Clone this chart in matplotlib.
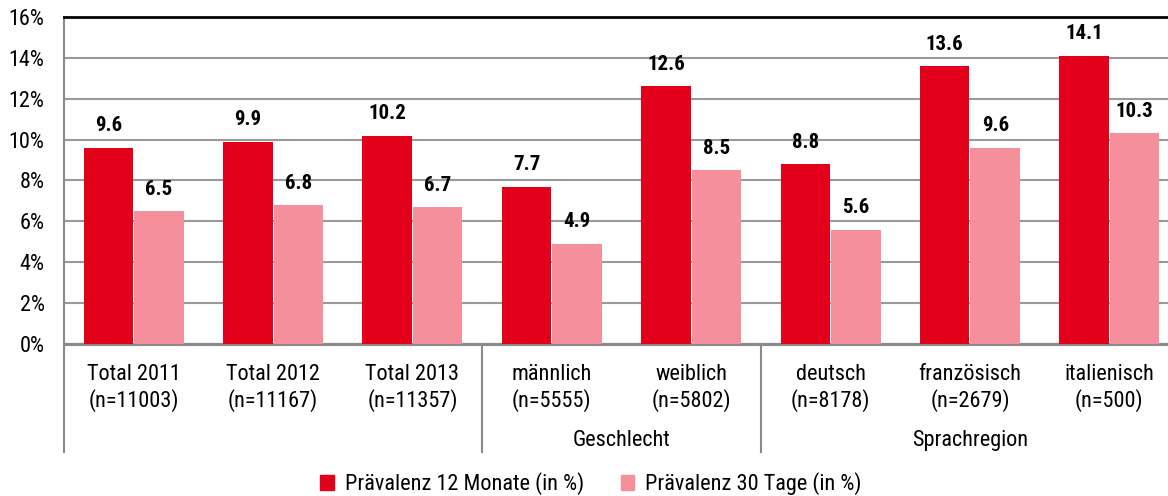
import numpy as np
import matplotlib.pyplot as plt
from matplotlib.patches import Patch

# Daten
kategorien = ['Total 2011', 'Total 2012', 'Total 2013', 'männlich', 'weiblich',
              'deutsch', 'französisch', 'italienisch']
stichprobe = ['(n=11003)', '(n=11167)', '(n=11357)', '(n=5555)', '(n=5802)',
              '(n=8178)', '(n=2679)', '(n=500)']
praev_12m = [9.6, 9.9, 10.2, 7.7, 12.6, 8.8, 13.6, 14.1]
praev_30t = [6.5, 6.8, 6.7, 4.9, 8.5, 5.6, 9.6, 10.3]
gruppen = ['Geschlecht', 'Sprachregion']
gruppen_bereich = [(3, 4), (5, 7)]
trenner = [2.5, 4.5]
serien = ['Prävalenz 12 Monate (in %)', 'Prävalenz 30 Tage (in %)']

rot = '#E2001A'
rosa = '#F58F9B'

plt.rcParams['font.family'] = ['Roboto Condensed', 'DejaVu Sans']

fig = plt.figure(figsize=(11.68, 4.96), dpi=100)
ax = fig.add_axes([64 / 1168, 152 / 496, 1115 / 1168, 327 / 496])

x = np.arange(len(kategorien))
b = 0.355
bars1 = ax.bar(x - b / 2 - 0.004, praev_12m, b, color=rot, zorder=3)
bars2 = ax.bar(x + b / 2 + 0.004, praev_30t, b, color=rosa, zorder=3)
ax.bar_label(bars1, fmt='%.1f', padding=9, fontsize=15, fontweight='bold')
ax.bar_label(bars2, fmt='%.1f', padding=9, fontsize=15, fontweight='bold')

ax.set_xlim(-0.5, len(kategorien) - 0.5)
ax.set_ylim(0, 16)
ax.set_yticks(np.arange(0, 17, 2))
ax.set_yticklabels([f'{v}%' for v in range(0, 17, 2)])
ax.tick_params(axis='y', length=0, pad=14, labelsize=16)
ax.tick_params(axis='x', length=0, labelbottom=False)
ax.yaxis.grid(True, color='#9a9a9a', linewidth=1.5, zorder=0)
ax.set_axisbelow(True)

ax.spines['right'].set_visible(False)
ax.spines['top'].set_color('black')
ax.spines['top'].set_linewidth(2)
ax.spines['left'].set_color('#8a8a8a')
ax.spines['left'].set_linewidth(1.5)
ax.spines['bottom'].set_color('#8a8a8a')
ax.spines['bottom'].set_linewidth(2.2)

# Kategorienbeschriftung unterhalb
h = 327.0
for i in range(len(kategorien)):
    ax.text(x[i], -(380 - 344) / h, kategorien[i], transform=ax.get_xaxis_transform(),
            ha='center', va='baseline', fontsize=16)
    ax.text(x[i], -(407 - 344) / h, stichprobe[i], transform=ax.get_xaxis_transform(),
            ha='center', va='baseline', fontsize=16)
for name, (a, e) in zip(gruppen, gruppen_bereich):
    ax.text((x[a] + x[e]) / 2, -(446 - 344) / h, name, transform=ax.get_xaxis_transform(),
            ha='center', va='baseline', fontsize=16)
for t in [-0.5] + trenner:
    ax.plot([t, t], [0, -(452 - 344) / h], transform=ax.get_xaxis_transform(),
            color='#8a8a8a', linewidth=1.5, clip_on=False)

handles = [Patch(color=rot), Patch(color=rosa)]
fig.legend(handles, serien, loc='center', bbox_to_anchor=(591 / 1168, 1 - 484 / 496),
           ncol=2, frameon=False, fontsize=16, handlelength=0.6, handleheight=0.6,
           handletextpad=0.5, columnspacing=1.65)

plt.savefig('out.png', dpi=100)
